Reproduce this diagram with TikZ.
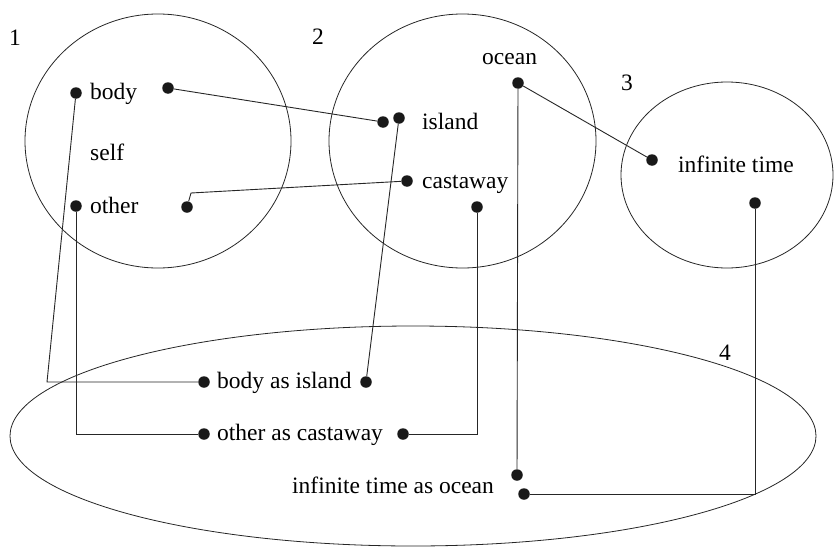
\documentclass[tikz,border=0pt]{standalone}
\usepackage{fontspec}
\setmainfont{Liberation Serif}
\begin{document}
\begin{tikzpicture}[x=1pt,y=-1pt,
  dot/.style={circle,fill=black!90,inner sep=0pt,minimum size=11.5pt},
  lbl/.style={anchor=base west,inner sep=0pt,font=\fontsize{23.5}{28}\selectfont},
  num/.style={inner sep=0pt,font=\fontsize{23.5}{28}\selectfont},
  frame/.style={draw=black!85,line width=0.8pt},
  conn/.style={draw=black!85,line width=0.9pt}]
\useasboundingbox (0,0) rectangle (834,546);
% spaces
\draw[frame] (158,141) ellipse [x radius=133pt, y radius=127pt];
\draw[frame] (462.5,141) ellipse [x radius=133.5pt, y radius=127pt];
\draw[frame] (727,175) ellipse [x radius=106pt, y radius=93pt];
\draw[frame] (413,436) ellipse [x radius=403pt, y radius=110pt];
% numbers
\node[num] (n1) at (15,38) {1};
\node[num] (n2) at (318,37) {2};
\node[num] (n3) at (627,83) {3};
\node[num] (n4) at (725,353) {4};
% labels
\node[lbl] (tbody) at (90,99) {body};
\node[lbl] (tself) at (90,160.5) {self};
\node[lbl] (tother) at (90,213) {other};
\node[lbl] (tocean) at (482,64) {ocean};
\node[lbl] (tisland) at (422,129) {island};
\node[lbl] (tcast) at (422,188) {castaway};
\node[lbl] (tit) at (678,172) {infinite time};
\node[lbl] (tbai) at (217,388) {body as island};
\node[lbl] (toac) at (217,440) {other as castaway};
\node[lbl] (tito) at (292,493) {infinite time as ocean};
% dots
\node[dot] (dBodyL) at (76,93) {};
\node[dot] (dBodyR) at (168,88) {};
\node[dot] (dOtherL) at (76,206) {};
\node[dot] (dOtherR) at (187,207) {};
\node[dot] (dIslandL) at (383,122) {};
\node[dot] (dIslandR) at (399,118) {};
\node[dot] (dCast) at (407,181) {};
\node[dot] (dCastB) at (477,207) {};
\node[dot] (dOcean) at (518,83) {};
\node[dot] (dIT) at (652,160) {};
\node[dot] (dITB) at (755,203) {};
\node[dot] (dBAI) at (204,382) {};
\node[dot] (dBAIR) at (366,382) {};
\node[dot] (dOACL) at (204,434) {};
\node[dot] (dOACR) at (403,434) {};
\node[dot] (dITOU) at (517,475) {};
\node[dot] (dITOR) at (524,494) {};
% bend points
\coordinate (cA) at (47,382);
\coordinate (cB) at (191,193);
% connectors
\draw[conn] (dBodyL) -- (cA) -- (dBAI);
\draw[conn] (dOtherL) |- (dOACL);
\draw[conn] (dBodyR) -- (dIslandL);
\draw[conn] (dOtherR) -- (cB) -- (dCast);
\draw[conn] (dIslandR) -- (dBAIR);
\draw[conn] (dCastB) |- (dOACR);
\draw[conn] (dOcean) -- (dIT);
\draw[conn] (dOcean) -- (dITOU);
\draw[conn] (dITB) |- (dITOR);
\end{tikzpicture}
\end{document}
